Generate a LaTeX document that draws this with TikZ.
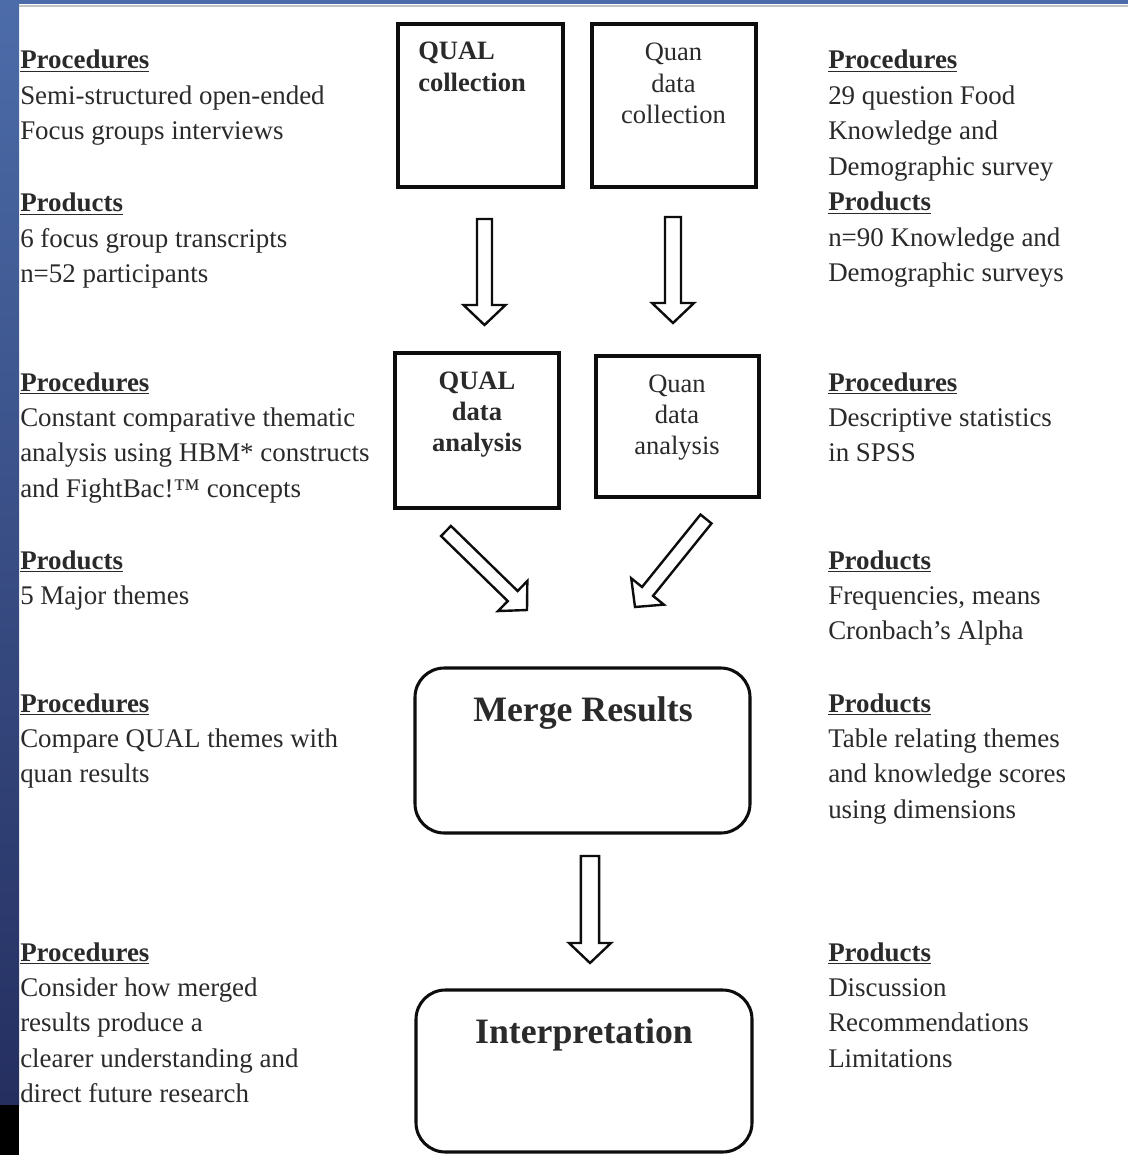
\documentclass[tikz,border=0pt]{standalone}
\usepackage{fontspec}
\setmainfont{Liberation Serif}
\usetikzlibrary{calc}

\definecolor{txt}{HTML}{2A2A2A}
\definecolor{stripTop}{HTML}{4C6CA9}
\definecolor{stripBot}{HTML}{252F60}
\definecolor{rulegray}{HTML}{C2C2C2}

\newcommand\sidetext{\fontsize{20.2}{26.6}\selectfont}
\newcommand\boxtext{\fontsize{19.9}{23.4}\selectfont}
\newcommand\bigtext{\fontsize{26.8}{30}\selectfont\bfseries}
\newcommand\hd[1]{\textbf{\underline{#1}}}
\newcommand\lines[2]{\begin{tabular}[t]{@{}#1@{}}#2\end{tabular}}

% hollow block arrow from #1 to #2, shaft half-width #3
\newcommand\hollowarrow[3]{%
  \coordinate (#1-#2-hb) at ($(#2)!15pt!(#1)$);
  \draw[hollow] ($(#1)!#3!90:(#2)$) -- ($(#1-#2-hb)!#3!90:(#2)$)
    -- ($(#1-#2-hb)!15.75pt!90:(#2)$) -- (#2)
    -- ($(#1-#2-hb)!15.75pt!-90:(#2)$) -- ($(#1-#2-hb)!#3!-90:(#2)$)
    -- ($(#1)!#3!-90:(#2)$) -- cycle;}

\tikzset{
  side/.style={anchor=base west, inner sep=0pt, font=\sidetext, text=txt},
  boxlabel/.style={anchor=base, inner sep=0pt, font=\boxtext, text=txt},
  stage/.style={draw=black!95, line width=2.3pt, inner sep=0pt},
  merged/.style={stage, rounded corners=22pt},
  hollow/.style={draw=black!95, line width=1.8pt, fill=white, line join=miter},
}

\begin{document}
\begin{tikzpicture}[x=0.75pt, y=-0.75pt]
\useasboundingbox (0,0) rectangle (1128,1155);
\fill[white] (0,0) rectangle (1128,1155);

% frame decoration
\shade[top color=stripTop, bottom color=stripBot] (0,0) rectangle (19,1105);
\fill[black] (0,1105) rectangle (19,1155);
\fill[stripTop] (0,0) rectangle (1128,4.5);
\draw[rulegray, line width=1.2pt] (19,6) -- (1128,6);

% stage boxes
\node[stage, minimum width=123.75pt, minimum height=122.25pt] (qualcol) at (480.5,105.5) {};
\node[stage, minimum width=123pt, minimum height=122.25pt] (quancol) at (674,105.5) {};
\node[stage, minimum width=123pt, minimum height=116.25pt] (qualana) at (477,430.5) {};
\node[stage, minimum width=122.25pt, minimum height=105.75pt] (quanana) at (677.5,426.5) {};
\node[merged, minimum width=251.25pt, minimum height=123.75pt] (merge) at (582.5,750.5) {};
\node[merged, minimum width=252pt, minimum height=121.5pt] (interp) at (584,1071) {};

% box labels
\node[boxlabel, anchor=base west] (qualcolL) at (418,60) {\bfseries\lines{l}{QUAL\\collection}};
\node[boxlabel] (quancolL) at (673.5,61) {\lines{c}{Quan\\data\\collection}};
\node[boxlabel] (qualanaL) at (477,389) {\bfseries\lines{c}{QUAL\\data\\analysis}};
\node[boxlabel] (quananaL) at (677,392) {\lines{c}{Quan\\data\\analysis}};
\node[boxlabel, font=\bigtext] (mergeL) at (583,721) {Merge Results};
\node[boxlabel, font=\bigtext] (interpL) at (584,1043) {Interpretation};

% arrow end points
\coordinate (a1s) at (484.5,219);  \coordinate (a1e) at (484.5,325);
\coordinate (a2s) at (673,217);    \coordinate (a2e) at (673,323);
\coordinate (a3s) at (446,531);    \coordinate (a3e) at (527,610);
\coordinate (a4s) at (706,519);    \coordinate (a4e) at (635,607);
\coordinate (a5s) at (590,856);    \coordinate (a5e) at (590,963);

\hollowarrow{a1s}{a1e}{5.6pt}
\hollowarrow{a2s}{a2e}{6pt}
\hollowarrow{a3s}{a3e}{5.3pt}
\hollowarrow{a4s}{a4e}{5.3pt}
\hollowarrow{a5s}{a5e}{6.8pt}

% left column
\node[side] (l1) at (20,69) {\lines{l}{\hd{Procedures}\\Semi-structured open-ended\\Focus groups interviews}};
\node[side] (l2) at (20,212) {\lines{l}{\hd{Products}\\6 focus group transcripts\\n=52 participants}};
\node[side] (l3) at (20,391) {\lines{l}{\hd{Procedures}\\Constant comparative thematic\\analysis using HBM* constructs\\and FightBac!™ concepts}};
\node[side] (l4) at (20,569) {\lines{l}{\hd{Products}\\5 Major themes}};
\node[side] (l5) at (20,712) {\lines{l}{\hd{Procedures}\\Compare QUAL themes with\\quan results}};
\node[side] (l6) at (20,961) {\lines{l}{\hd{Procedures}\\Consider how merged\\results produce a\\clearer understanding and\\direct future research}};

% right column
\node[side] (r1) at (828,69) {\lines{l}{\hd{Procedures}\\29 question Food\\Knowledge and\\Demographic survey\\\hd{Products}\\n=90 Knowledge and\\Demographic surveys}};
\node[side] (r2) at (828,391) {\lines{l}{\hd{Procedures}\\Descriptive statistics\\in SPSS}};
\node[side] (r3) at (828,569) {\lines{l}{\hd{Products}\\Frequencies, means\\Cronbach’s Alpha}};
\node[side] (r4) at (828,712) {\lines{l}{\hd{Products}\\Table relating themes\\and knowledge scores\\using dimensions}};
\node[side] (r5) at (828,961) {\lines{l}{\hd{Products}\\Discussion\\Recommendations\\Limitations}};
\end{tikzpicture}
\end{document}
